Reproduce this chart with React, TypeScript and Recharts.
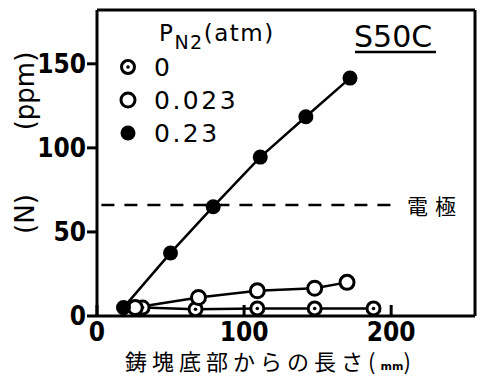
import React from 'react';
import { ComposedChart, Line, XAxis, YAxis, ReferenceLine, Customized } from 'recharts';

// P_N2 = 0 atm
const n0Len = [31, 67, 109, 148, 188];
const n0Ppm = [5, 4, 4.5, 4.5, 4.5];
// P_N2 = 0.023 atm
const n023Len = [26, 69, 109, 148, 170];
const n023Ppm = [5, 11, 15, 16.5, 20];
// P_N2 = 0.23 atm
const n23Len = [18, 50, 79, 111, 142, 172];
const n23Ppm = [5, 37.5, 65, 94.5, 118.5, 141.5];

const electrodeLevel = 66;
const xTicks = [0, 100, 200];
const yTicks = [0, 50, 100, 150];
const legendLabels = ['0', '0.023', '0.23'];

const zip = (xs: number[], ys: number[]) => xs.map((x, i) => ({ len: x, ppm: ys[i] }));

const s0 = zip(n0Len, n0Ppm);
const s023 = zip(n023Len, n023Ppm);
const s23 = zip(n23Len, n23Ppm);

const TICK_FONT = '"Liberation Sans Narrow", "DejaVu Sans Condensed", "Liberation Sans", sans-serif';
const LABEL_FONT = '"DejaVu Sans", "Noto Sans", sans-serif';
const JP_FONT = '"Noto Sans CJK JP", sans-serif';

const DotCentre = (p: any) => (
  <g key={`d0-${p.index}`}>
    <circle cx={p.cx} cy={p.cy} r={6.5} fill="#fff" stroke="#000" strokeWidth={3} />
    <circle cx={p.cx} cy={p.cy} r={1.8} fill="#000" />
  </g>
);
const DotOpen = (p: any) => (
  <circle key={`d1-${p.index}`} cx={p.cx} cy={p.cy} r={7} fill="#fff" stroke="#000" strokeWidth={3} />
);
const DotFilled = (p: any) => (
  <circle key={`d2-${p.index}`} cx={p.cx} cy={p.cy} r={7.5} fill="#000" />
);

const XTick = (p: any) => (
  <g>
    <line x1={p.x} x2={p.x} y1={p.y} y2={p.y - 11} stroke="#000" strokeWidth={3} />
    <text x={p.x} y={p.y + 25} textAnchor="middle" fontFamily={TICK_FONT} fontWeight="bold" fontSize={26} fill="#000">
      {p.payload.value}
    </text>
  </g>
);

const Decorations = () => (
  <g>
    {/* legend */}
    <text x={159} y={41} fontFamily={LABEL_FONT} fontSize={23} letterSpacing={1.5} fill="#000">
      P
      <tspan fontSize={19} dy={8}>N2</tspan>
      <tspan fontSize={23} dy={-8}>(atm)</tspan>
    </text>
    <DotCentre cx={128} cy={67} index={-1} />
    <DotOpen cx={128} cy={100} index={-1} />
    <DotFilled cx={128} cy={133} index={-1} />
    {legendLabels.map((l, i) => (
      <text key={l} x={154} y={76 + i * 33} fontFamily={LABEL_FONT} fontSize={25} letterSpacing={2.5} fill="#000">
        {l}
      </text>
    ))}
    {/* steel grade */}
    <text x={354} y={47} fontFamily={LABEL_FONT} fontSize={30} fill="#000">S50C</text>
    <line x1={355} x2={436} y1={52} y2={52} stroke="#000" strokeWidth={2.5} />
    {/* electrode label */}
    <text x={407} y={214} fontFamily={JP_FONT} fontSize={21} letterSpacing={7} fill="#000">電極</text>
    {/* y-axis title */}
    <text transform="translate(34,91) rotate(-90)" textAnchor="middle" fontFamily={LABEL_FONT} fontSize={26} fill="#000">(ppm)</text>
    <text transform="translate(34,214) rotate(-90)" textAnchor="middle" fontFamily={LABEL_FONT} fontSize={26} fill="#000">(N)</text>
    {/* x-axis title */}
    <text x={125} y={370} fontFamily={JP_FONT} fontSize={22} letterSpacing={5} fill="#000">
      鋳塊底部からの長さ(<tspan fontSize={11} fontWeight="bold" fontFamily={LABEL_FONT} letterSpacing={0}>mm</tspan>)
    </text>
  </g>
);

export default function App() {
  return (
    <div style={{ position: 'absolute', left: 0, top: 0, width: 485, height: 380, background: '#fff' }}>
      <ComposedChart width={485} height={380} margin={{ top: 10, right: 10, left: 0, bottom: 0 }}>
        <XAxis
          type="number"
          dataKey="len"
          domain={[0, 257]}
          ticks={xTicks}
          allowDataOverflow
          height={64}
          tickSize={0}
          tickMargin={0}
          axisLine={{ stroke: '#000', strokeWidth: 3 }}
          tick={<XTick />}
        />
        <YAxis
          type="number"
          dataKey="ppm"
          domain={[0, 182]}
          ticks={yTicks}
          allowDataOverflow
          width={97}
          tickSize={10}
          tickMargin={1}
          axisLine={{ stroke: '#000', strokeWidth: 3 }}
          tickLine={{ stroke: '#000', strokeWidth: 3 }}
          tick={{ fontFamily: TICK_FONT, fontWeight: 'bold', fontSize: 26, fill: '#000' }}
        />
        <ReferenceLine y={182} stroke="#000" strokeWidth={3} />
        <ReferenceLine x={257} stroke="#000" strokeWidth={3} />
        <ReferenceLine
          segment={[{ x: 3, y: electrodeLevel }, { x: 206, y: electrodeLevel }]}
          stroke="#000"
          strokeWidth={2.5}
          strokeDasharray="13 10"
        />
        <Line data={s0} dataKey="ppm" stroke="#000" strokeWidth={2.5} dot={DotCentre} isAnimationActive={false} />
        <Line data={s023} dataKey="ppm" stroke="#000" strokeWidth={2.5} dot={DotOpen} isAnimationActive={false} />
        <Line data={s23} dataKey="ppm" stroke="#000" strokeWidth={2.5} dot={DotFilled} isAnimationActive={false} />
        <Customized component={Decorations} />
      </ComposedChart>
    </div>
  );
}
